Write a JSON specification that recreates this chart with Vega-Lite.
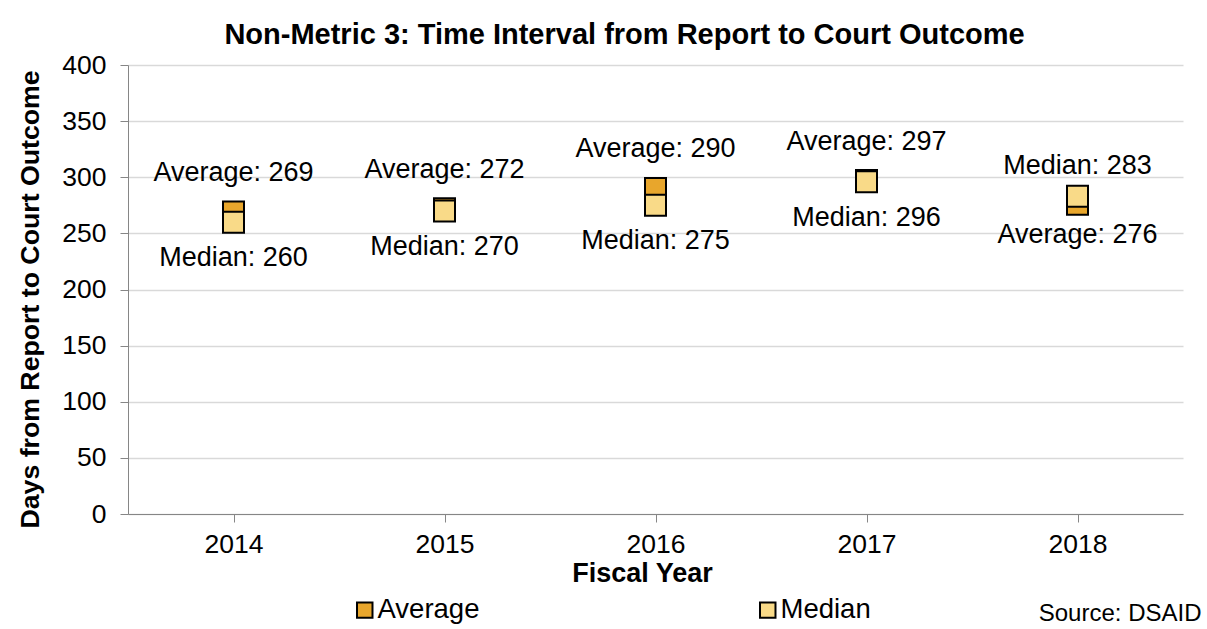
{
  "$schema": "https://vega.github.io/schema/vega-lite/v6.json",
  "width": 1055,
  "height": 449,
  "autosize": {"type": "none"},
  "padding": {"left": 128, "top": 65, "right": 24, "bottom": 115},
  "background": "white",
  "config": {
    "font": "Liberation Sans",
    "view": {"stroke": null},
    "axis": {"labelColor": "black", "titleColor": "black", "labelFont": "Liberation Sans", "titleFont": "Liberation Sans"}
  },
  "title": {
    "text": "Non-Metric 3: Time Interval from Report to Court Outcome",
    "fontSize": 29,
    "fontWeight": "bold",
    "color": "black",
    "anchor": "middle",
    "frame": "group",
    "baseline": "bottom",
    "offset": 13,
    "dx": -31,
    "dy": 40
  },
  "datasets": {
    "stats": [
      {"year": "2014", "series": "Average", "value": 269},
      {"year": "2015", "series": "Average", "value": 272},
      {"year": "2016", "series": "Average", "value": 290},
      {"year": "2017", "series": "Average", "value": 297},
      {"year": "2018", "series": "Average", "value": 276},
      {"year": "2014", "series": "Median", "value": 260},
      {"year": "2015", "series": "Median", "value": 270},
      {"year": "2016", "series": "Median", "value": 275},
      {"year": "2017", "series": "Median", "value": 296},
      {"year": "2018", "series": "Median", "value": 283}
    ],
    "note": [{"text": "Source: DSAID", "year": "2018", "value": 0}]
  },
  "encoding": {
    "x": {
      "field": "year",
      "type": "ordinal",
      "scale": {"paddingInner": 0, "paddingOuter": 0},
      "axis": {
        "title": "Fiscal Year",
        "titleFontSize": 27,
        "titleFontWeight": "bold",
        "titlePadding": 3,
        "titleX": 514,
        "labelAngle": 0,
        "labelFontSize": 26.5,
        "labelPadding": 9,
        "domainColor": "#868686",
        "tickColor": "#868686",
        "tickSize": 8,
        "bandPosition": 1,
        "tickExtra": false,
        "grid": false
      }
    },
    "y": {
      "field": "value",
      "type": "quantitative",
      "scale": {"domain": [0, 400]},
      "axis": {
        "title": "Days from Report to Court Outcome",
        "titleFontSize": 26.7,
        "titleFontWeight": "bold",
        "titlePadding": 17,
        "titleY": 234,
        "values": [0, 50, 100, 150, 200, 250, 300, 350, 400],
        "labelFontSize": 26.5,
        "labelPadding": 14,
        "domainColor": "#868686",
        "tickColor": "#868686",
        "tickSize": 8,
        "gridColor": "#d9d9d9",
        "gridWidth": 1.3
      }
    }
  },
  "layer": [
    {
      "data": {"name": "stats"},
      "mark": {"type": "point", "shape": "square", "filled": true, "size": 441, "stroke": "black", "strokeWidth": 2, "opacity": 1},
      "encoding": {
        "color": {
          "field": "series",
          "type": "nominal",
          "scale": {"domain": ["Average", "Median"], "range": ["#E8A62C", "#F9DA88"]},
          "legend": {
            "title": null,
            "orient": "none",
            "direction": "horizontal",
            "columns": 2,
            "columnPadding": 274,
            "legendX": 223,
            "legendY": 531,
            "labelFontSize": 27.5,
            "labelColor": "black",
            "labelOffset": -1,
            "symbolType": "square",
            "symbolSize": 240,
            "symbolStrokeColor": "black",
            "symbolStrokeWidth": 2,
            "symbolOpacity": 1
          }
        }
      }
    },
    {
      "data": {"name": "stats"},
      "transform": [
        {"filter": "datum.series == 'Average' && datum.year != '2018'"},
        {"calculate": "datum.series + ': ' + datum.value", "as": "label"}
      ],
      "mark": {"type": "text", "fontSize": 27, "color": "black", "baseline": "middle", "dy": -39},
      "encoding": {"text": {"field": "label"}}
    },
    {
      "data": {"name": "stats"},
      "transform": [
        {"filter": "datum.series == 'Median' && datum.year != '2018'"},
        {"calculate": "datum.series + ': ' + datum.value", "as": "label"}
      ],
      "mark": {"type": "text", "fontSize": 27, "color": "black", "baseline": "middle", "dy": 36},
      "encoding": {"text": {"field": "label"}}
    },
    {
      "data": {"name": "stats"},
      "transform": [
        {"filter": "datum.series == 'Median' && datum.year == '2018'"},
        {"calculate": "datum.series + ': ' + datum.value", "as": "label"}
      ],
      "mark": {"type": "text", "fontSize": 27, "color": "black", "baseline": "middle", "dy": -30},
      "encoding": {"text": {"field": "label"}}
    },
    {
      "data": {"name": "stats"},
      "transform": [
        {"filter": "datum.series == 'Average' && datum.year == '2018'"},
        {"calculate": "datum.series + ': ' + datum.value", "as": "label"}
      ],
      "mark": {"type": "text", "fontSize": 27, "color": "black", "baseline": "middle", "dy": 31},
      "encoding": {"text": {"field": "label"}}
    },
    {
      "data": {"name": "note"},
      "mark": {"type": "text", "fontSize": 24, "color": "black", "align": "right", "baseline": "alphabetic", "dx": 124, "dy": 107},
      "encoding": {"text": {"field": "text"}}
    }
  ]
}
